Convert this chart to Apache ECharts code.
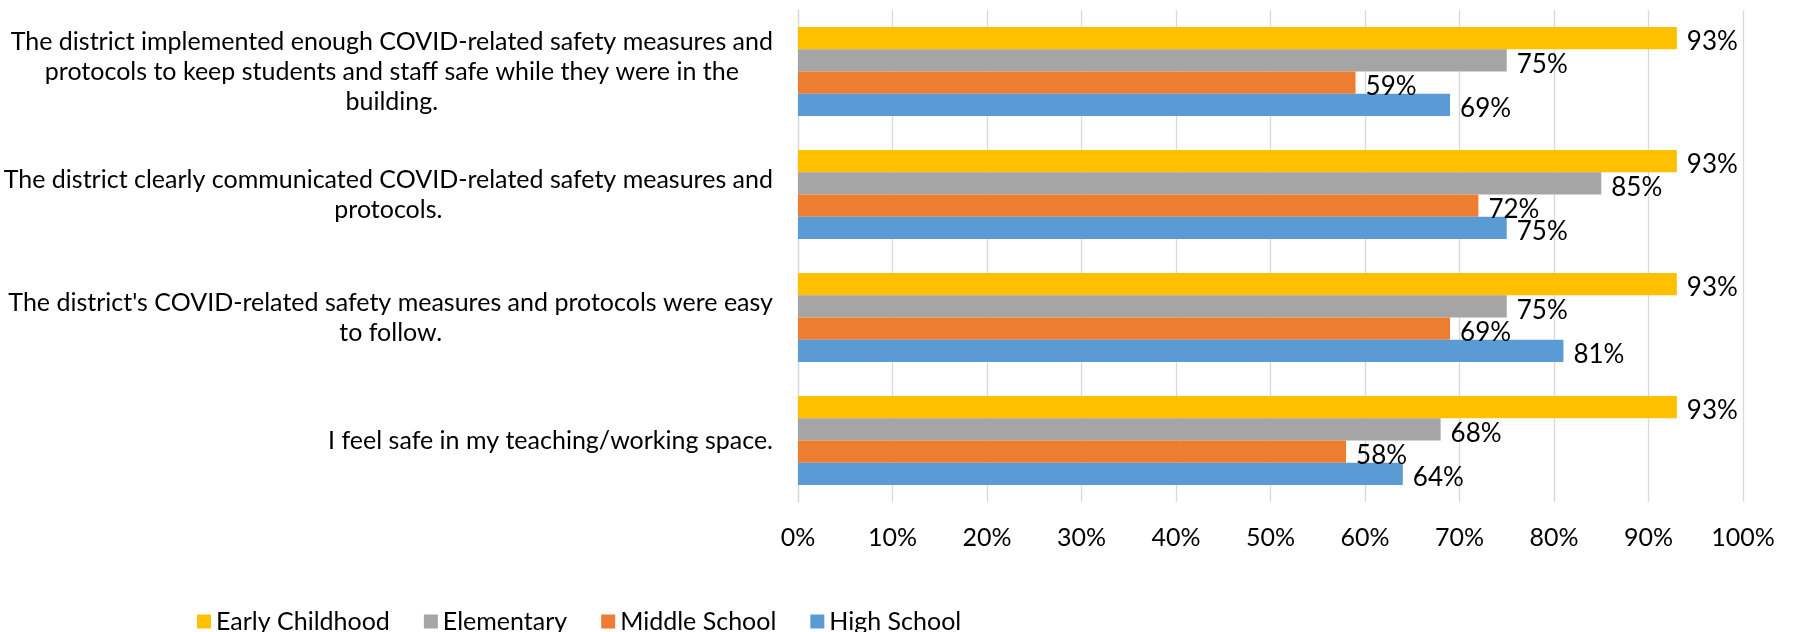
<!DOCTYPE html>
<html>
<head>
<meta charset="utf-8">
<script src="https://cdn.jsdelivr.net/npm/echarts@6/dist/echarts.min.js"></script>
<style>
html,body{margin:0;padding:0;background:#fff;}
#chart{width:1796px;height:632px;}
</style>
</head>
<body>
<div id="chart"></div>
<script>
const categories = [
  "The district implemented enough COVID-related safety measures and\nprotocols to keep students and staff safe while they were in the\nbuilding.",
  "The district clearly communicated COVID-related safety measures and\nprotocols.",
  "The district's COVID-related safety measures and protocols were easy\nto follow.",
  "I feel safe in my teaching/working space."
];
const seriesNames = ["Early Childhood", "Elementary", "Middle School", "High School"];
const earlyChildhood = [93, 93, 93, 93];
const elementary = [75, 85, 75, 68];
const middleSchool = [59, 72, 69, 58];
const highSchool = [69, 75, 81, 64];
const colors = ["#FFC000", "#A5A5A5", "#ED7D31", "#5B9BD5"];

const FONT = "Lato";
const values = [earlyChildhood, elementary, middleSchool, highSchool];

const chart = echarts.init(document.getElementById('chart'), null, {renderer: 'canvas'});
chart.setOption({
  animation: false,
  backgroundColor: '#fff',
  textStyle: {fontFamily: FONT},
  legend: {
    data: seriesNames,
    left: 192,
    top: 604,
    itemWidth: 14,
    itemHeight: 14,
    itemGap: 34,
    icon: 'rect',
    textStyle: {fontFamily: FONT, fontSize: 25, color: '#000'}
  },
  grid: {left: 798, right: 53, top: 10, bottom: 130},
  xAxis: {
    type: 'value',
    min: 0,
    max: 100,
    interval: 10,
    axisLine: {show: false},
    axisTick: {show: false},
    splitLine: {show: true, lineStyle: {color: '#D9D9D9', width: 1.3}},
    axisLabel: {formatter: '{value}%', fontFamily: FONT, fontSize: 25, color: '#000', margin: 23}
  },
  yAxis: {
    type: 'category',
    inverse: true,
    data: categories,
    axisLine: {show: true, lineStyle: {color: '#D9D9D9', width: 1.3}},
    axisTick: {show: false},
    axisLabel: {
      margin: 25,
      align: 'right',
      color: '#000',
      fontFamily: FONT,
      fontSize: 25,
      lineHeight: 30,
      formatter: v => '{c|' + v + '}',
      rich: {c: {align: 'center', fontFamily: FONT, fontSize: 25, lineHeight: 30, color: '#000'}}
    }
  },
  series: values.map((vals, i) => ({
    name: seriesNames[i],
    type: 'bar',
    data: vals,
    barGap: '0%',
    barCategoryGap: '27.5%',
    itemStyle: {color: colors[i]},
    label: {
      show: true,
      position: 'right',
      distance: 10,
      offset: [0, 4],
      formatter: '{c}%',
      fontFamily: FONT,
      fontSize: 26,
      color: '#000'
    }
  }))
});
</script>
</body>
</html>
